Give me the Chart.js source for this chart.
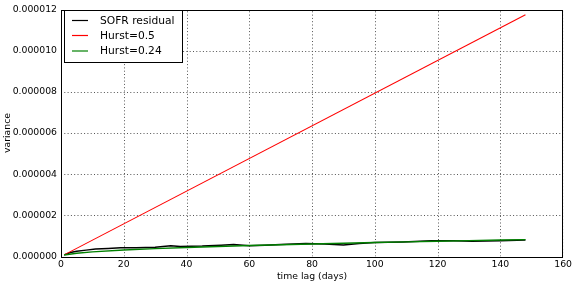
<!DOCTYPE html>
<html>
<head>
<meta charset="utf-8">
<script src="https://cdn.jsdelivr.net/npm/chart.js@4/dist/chart.umd.min.js"></script>
<style>
  html, body { margin: 0; padding: 0; background: #fff; }
  #wrap { width: 575px; height: 284px; }
</style>
</head>
<body>
<div id="wrap"><canvas id="varChart" width="575" height="284"></canvas></div>
<script>
// lags (days) and variances
const sofrLags = [1, 3, 5, 8, 11, 15, 19, 24, 30, 35, 38, 45, 51, 55, 60, 65, 70, 78, 84, 90, 95, 100, 109, 118, 125, 131, 140, 148];
const sofrVar = [0.08e-6, 0.19e-6, 0.26e-6, 0.31e-6, 0.36e-6, 0.39e-6, 0.42e-6, 0.43e-6, 0.45e-6, 0.52e-6, 0.49e-6, 0.51e-6, 0.55e-6, 0.58e-6, 0.52e-6, 0.55e-6, 0.58e-6, 0.63e-6, 0.61e-6, 0.56e-6, 0.63e-6, 0.68e-6, 0.71e-6, 0.77e-6, 0.76e-6, 0.74e-6, 0.77e-6, 0.80e-6];

const h05Lags = [1, 148];
const h05Var = [0.079e-6, 11.75e-6];

const h024Lags = [1, 5, 10, 20, 30, 40, 50, 60, 70, 80, 90, 100, 110, 120, 130, 140, 148];
const h024Var = [0.075e-6, 0.161e-6, 0.225e-6, 0.314e-6, 0.381e-6, 0.437e-6, 0.487e-6, 0.532e-6, 0.572e-6, 0.610e-6, 0.646e-6, 0.679e-6, 0.711e-6, 0.741e-6, 0.771e-6, 0.799e-6, 0.820e-6];

const seriesLabels = ['SOFR residual', 'Hurst=0.5', 'Hurst=0.24'];
const seriesColors = ['#000000', '#ff0000', '#008000'];

function toPoints(xs, ys) {
    return xs.map((x, i) => ({ x: x, y: ys[i] }));
}

const FONT = 'DejaVu Sans';

// rejilla punteada (estilo matplotlib), recortada al area del grafico
const dottedGrid = {
    id: 'dottedGrid',
    beforeDatasetsDraw(chart) {
        const c = chart.ctx;
        const a = chart.chartArea;
        const xs = chart.scales.x;
        const ys = chart.scales.y;
        c.save();
        c.beginPath();
        c.rect(a.left, a.top, a.right - a.left, a.bottom - a.top);
        c.clip();
        c.strokeStyle = '#555';
        c.lineWidth = 1;
        c.setLineDash([1, 2.3]);
        xs.ticks.forEach(t => {
            const px = Math.round(xs.getPixelForValue(t.value)) + 0.5;
            c.beginPath();
            c.moveTo(px, a.bottom);
            c.lineTo(px, a.top);
            c.stroke();
        });
        ys.ticks.forEach(t => {
            const py = Math.round(ys.getPixelForValue(t.value)) + 0.5;
            c.beginPath();
            c.moveTo(a.left, py);
            c.lineTo(a.right, py);
            c.stroke();
        });
        c.restore();
    }
};

// caja alrededor del area y leyenda con borde
const boxLegend = {
    id: 'boxLegend',
    afterDraw(chart) {
        const c = chart.ctx;
        const a = chart.chartArea;
        c.save();
        c.setLineDash([]);
        c.strokeStyle = '#000';
        c.lineWidth = 1;
        c.strokeRect(Math.round(a.left) + 0.5, Math.round(a.top) + 0.5,
            Math.round(a.right - a.left) - 1, Math.round(a.bottom - a.top));

        // leyenda
        c.fillStyle = '#fff';
        c.fillRect(64.5, 10.5, 118, 52);
        c.strokeRect(64.5, 10.5, 118, 52);
        const rows = [20.5, 35.5, 51];
        c.font = '10.7px "' + FONT + '"';
        c.textBaseline = 'middle';
        chart.data.datasets.forEach((ds, i) => {
            c.strokeStyle = ds.borderColor;
            c.lineWidth = 1.2;
            c.beginPath();
            c.moveTo(72, rows[i]);
            c.lineTo(88, rows[i]);
            c.stroke();
            c.fillStyle = '#000';
            c.fillText(ds.label, 100, rows[i] + 0.5);
        });
        c.restore();
    }
};

const ctx = document.getElementById('varChart');

const hiddenGrid = { display: true, color: 'rgba(0,0,0,0)', drawTicks: false };

new Chart(ctx, {
    type: 'line',
    data: {
        datasets: [
            {
                label: seriesLabels[0],
                data: toPoints(sofrLags, sofrVar),
                borderColor: seriesColors[0],
                borderWidth: 1.5,
                order: 2
            },
            {
                label: seriesLabels[1],
                data: toPoints(h05Lags, h05Var),
                borderColor: seriesColors[1],
                borderWidth: 1.1,
                order: 1
            },
            {
                label: seriesLabels[2],
                data: toPoints(h024Lags, h024Var),
                borderColor: seriesColors[2],
                borderWidth: 1.4,
                order: 0
            }
        ]
    },
    options: {
        responsive: false,
        animation: false,
        devicePixelRatio: 1,
        layout: { padding: { top: 5, right: 11, left: 2, bottom: 2 } },
        elements: { point: { radius: 0 }, line: { tension: 0 } },
        plugins: {
            legend: { display: false },
            tooltip: { enabled: false }
        },
        scales: {
            x: {
                type: 'linear',
                min: 0,
                max: 160,
                ticks: {
                    stepSize: 20,
                    color: '#000',
                    padding: 3,
                    maxRotation: 0,
                    font: { family: FONT, size: 9.3 }
                },
                grid: hiddenGrid,
                border: { display: false },
                title: {
                    display: true,
                    text: 'time lag (days)',
                    color: '#000',
                    padding: { top: 1, bottom: 0 },
                    font: { family: FONT, size: 9.3 }
                },
                afterFit(scale) { scale.height = 25.5; }
            },
            y: {
                min: 0,
                max: 0.000012,
                ticks: {
                    stepSize: 0.000002,
                    color: '#000',
                    padding: 4,
                    font: { family: FONT, size: 9.3 },
                    callback: value => value.toFixed(6)
                },
                grid: hiddenGrid,
                border: { display: false },
                title: {
                    display: true,
                    text: 'variance',
                    color: '#000',
                    padding: { top: 0, bottom: 0 },
                    font: { family: FONT, size: 9.3 }
                },
                afterFit(scale) { scale.width = 59; }
            }
        }
    },
    plugins: [dottedGrid, boxLegend]
});
</script>
</body>
</html>
